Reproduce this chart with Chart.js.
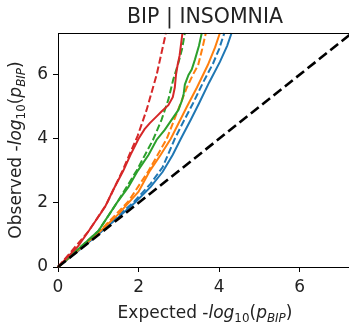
<!DOCTYPE html>
<html><head><meta charset="utf-8">
<script src="https://cdn.jsdelivr.net/npm/chart.js@4.4.1/dist/chart.umd.min.js"></script>
<style>html,body{margin:0;padding:0;overflow:hidden;background:#fff}#wrap{width:354px;height:330px;position:relative}</style>
</head><body><div id="wrap"><canvas id="c" width="354" height="330"></canvas></div>
<script>
const titleText = "BIP | INSOMNIA";
const xTicks = [0, 2, 4, 6];
const yTicks = [0, 2, 4, 6];
const axisMax = 7.3;
const diagonal = [[0,0],[7.3,7.3]];
const blueSolid = [[0,0],[0.5,0.5],[1,1.02],[1.5,1.55],[1.92,2.02],[2.3,2.5],[2.6,2.97],[2.85,3.5],[3.05,4.0],[3.3,4.6],[3.5,5.1],[3.75,5.75],[4.02,6.4],[4.2,6.9],[4.31,7.3]];
const blueDashed = [[0,0],[1,1.03],[1.9,2.05],[2.3,2.6],[2.6,3.12],[2.9,4.0],[3.1,4.5],[3.35,5.1],[3.6,5.75],[3.85,6.35],[4.0,6.8],[4.13,7.3]];
const orangeSolid = [[0,0],[0.5,0.52],[1,1.06],[1.5,1.65],[1.75,2.0],[2.0,2.35],[2.28,3.0],[2.55,3.5],[2.8,4.0],[3.0,4.5],[3.2,5.0],[3.45,5.6],[3.72,6.3],[3.9,6.85],[4.02,7.3]];
const orangeDashed = [[0,0],[1,1.07],[1.75,2.05],[2.25,3.0],[2.7,4.0],[2.95,4.8],[3.2,5.6],[3.35,6.0],[3.48,6.3],[3.58,6.8],[3.67,7.3]];
const greenSolid = [[0,0],[0.5,0.55],[1,1.12],[1.46,2.0],[1.75,2.5],[1.98,3.0],[2.25,3.5],[2.45,3.97],[2.65,4.28],[2.82,4.59],[2.99,4.9],[3.08,5.2],[3.12,5.4],[3.15,5.69],[3.24,5.99],[3.32,6.16],[3.4,6.47],[3.5,6.9],[3.57,7.3]];
const greenDashed = [[0,0],[1,1.12],[1.46,2.0],[1.95,3.0],[2.36,3.97],[2.57,4.59],[2.74,5.22],[2.86,5.84],[2.99,6.37],[3.08,6.8],[3.15,7.3]];
const redSolid = [[0,0],[0.5,0.65],[0.75,1.1],[1.17,1.88],[1.37,2.4],[1.62,3.0],[1.8,3.5],[2.0,4.0],[2.15,4.3],[2.28,4.49],[2.45,4.7],[2.57,4.85],[2.74,5.05],[2.85,5.3],[2.9,5.6],[2.93,6.0],[2.97,6.3],[3.02,6.6],[3.06,7.0],[3.09,7.3]];
const redDashed = [[0,0],[0.75,1.1],[1.2,1.95],[1.6,3.0],[1.98,4.1],[2.2,4.9],[2.45,6.0],[2.68,7.3]];

const BLUE='#1f77b4', ORANGE='#ff7f0e', GREEN='#2ca02c', RED='#d62728';
const FONT='"DejaVu Sans", sans-serif';
function pts(a){return a.map(p=>({x:p[0],y:p[1]}));}
function ds(data,color,dashed,order,w){
  return {data:pts(data),borderColor:color,borderWidth:w||2,borderDash:dashed?[7,3]:[],showLine:true,pointRadius:0,fill:false,tension:0,order:order,clip:false};
}
const datasets=[
  ds(blueSolid,BLUE,false,9), ds(blueDashed,BLUE,true,8),
  ds(orangeSolid,ORANGE,false,7), ds(orangeDashed,ORANGE,true,6),
  ds(greenSolid,GREEN,false,5), ds(greenDashed,GREEN,true,4),
  ds(redSolid,RED,false,3), ds(redDashed,RED,true,2),
];
const diag=ds(diagonal,'#000000',false,1,2.6); diag.borderDash=[10,4.5];
datasets.push(diag);

function measureMath(ctx,segs,size){
  let w=0;
  for(const s of segs){
    const fs=s.sub?size*0.7:size;
    ctx.font=(s.it?'italic ':'')+fs+'px '+FONT;
    s._w=ctx.measureText(s.t).width; s._fs=fs; w+=s._w;
  }
  return w;
}
function renderMath(ctx,segs,size,x,y){
  let cx=x;
  for(const s of segs){
    ctx.font=(s.it?'italic ':'')+s._fs+'px '+FONT;
    ctx.fillText(s.t,cx,y+(s.sub?size*0.22:0));
    cx+=s._w;
  }
}
function labelSegs(prefix){
  return [{t:prefix+' -'},{t:'log',it:true},{t:'10',sub:true},{t:'('},{t:'p',it:true},{t:'BIP',it:true,sub:true},{t:')'}];
}
const LABEL=17;
const deco={
  id:'deco',
  afterDraw(chart){
    const ctx=chart.ctx, a=chart.chartArea;
    ctx.save();
    ctx.strokeStyle='#000'; ctx.lineWidth=1;
    ctx.beginPath(); ctx.moveTo(a.left,a.top+0.5); ctx.lineTo(a.right,a.top+0.5); ctx.stroke();
    ctx.fillStyle='#222'; ctx.textBaseline='alphabetic'; ctx.textAlign='left';
    const cx=(a.left+a.right)/2, cy=(a.top+a.bottom)/2;
    ctx.font='20.5px '+FONT; ctx.textAlign='center';
    ctx.fillText(titleText,cx,23);
    ctx.textAlign='left';
    const sx=labelSegs('Expected'); const wx=measureMath(ctx,sx,LABEL);
    renderMath(ctx,sx,LABEL,cx-wx/2,318);
    const sy=labelSegs('Observed'); const wy=measureMath(ctx,sy,LABEL);
    ctx.translate(21,cy); ctx.rotate(-Math.PI/2);
    renderMath(ctx,sy,LABEL,-wy/2,0);
    ctx.restore();
  }
};
new Chart(document.getElementById('c'),{
  type:'scatter',
  data:{datasets},
  options:{
    responsive:false, animation:false, devicePixelRatio:1,
    layout:{padding:{top:33,right:2,left:0,bottom:0}},
    plugins:{legend:{display:false},tooltip:{enabled:false},title:{display:false}},
    scales:{
      x:{type:'linear',min:0,max:axisMax,
        afterFit(s){s.height=63;},
        afterBuildTicks(s){s.ticks=xTicks.map(v=>({value:v}));},
        grid:{drawOnChartArea:false,tickLength:5,tickColor:'#000',tickWidth:1},
        border:{display:true,color:'#000',width:1},
        ticks:{font:{family:FONT,size:17},color:'#222',padding:5,maxRotation:0}},
      y:{type:'linear',min:0,max:axisMax,
        afterFit(s){s.width=58;},
        afterBuildTicks(s){s.ticks=yTicks.map(v=>({value:v}));},
        grid:{drawOnChartArea:false,tickLength:5,tickColor:'#000',tickWidth:1},
        border:{display:true,color:'#000',width:1},
        ticks:{font:{family:FONT,size:17},color:'#222',padding:5}}
    }
  },
  plugins:[deco]
});
</script></body></html>
